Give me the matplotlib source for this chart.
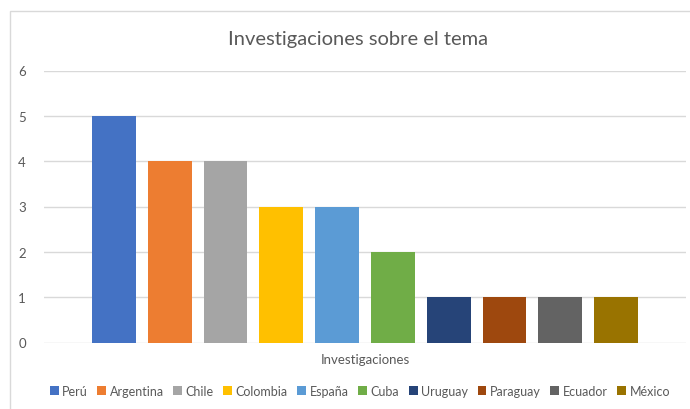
import matplotlib
matplotlib.use('Agg')
from matplotlib import pyplot as plt
from matplotlib.patches import Rectangle, Patch
import numpy as np

# Data
countries = ['Perú', 'Argentina', 'Chile', 'Colombia', 'España', 'Cuba',
             'Uruguay', 'Paraguay', 'Ecuador', 'México']
counts = [5, 4, 4, 3, 3, 2, 1, 1, 1, 1]
colors = ['#4472C4', '#ED7D31', '#A5A5A5', '#FFC000', '#5B9BD5', '#70AD47',
          '#264478', '#9E480E', '#636363', '#997300']
yticks = [0, 1, 2, 3, 4, 5, 6]

plt.rcParams['font.family'] = ['Lato', 'DejaVu Sans']
text_color = '#595959'

fig = plt.figure(figsize=(6.9, 4.1), dpi=100)
# Chart area border (cropped on right and bottom)
fig.patches.append(Rectangle((10 / 690, -0.1), 1.2, 1.1 - 12 / 410,
                             transform=fig.transFigure, fill=False,
                             edgecolor='#d9d9d9', linewidth=1))

ax = fig.add_axes([44 / 690, 66.5 / 410, 642 / 690, 272 / 410])
x = np.arange(len(countries))
ax.bar(x, counts, width=44 / 56, color=colors, zorder=3)

ax.set_xlim(-1.25, 10.25)
ax.set_ylim(0, 6)
ax.set_yticks(yticks)
ax.set_xticks([])
ax.yaxis.grid(True, color='#d9d9d9', linewidth=1, zorder=0)
for s in ax.spines.values():
    s.set_visible(False)
ax.tick_params(axis='y', length=0, pad=13, labelsize=9.5, labelcolor=text_color)
ax.set_xlabel('Investigaciones', fontsize=9.5, color=text_color, labelpad=7.5)

fig.text(358 / 690, 1 - 40 / 410, 'Investigaciones sobre el tema',
         ha='center', va='center', fontsize=14.5, color=text_color)

handles = [Patch(facecolor=c, edgecolor='none') for c in colors]
fig.legend(handles, countries, loc='center', bbox_to_anchor=(360 / 690, 1 - 392 / 410),
           ncol=10, frameon=False, fontsize=9, handlelength=0.7,
           handleheight=0.7, handletextpad=0.3, columnspacing=0.75,
           labelcolor=text_color)

plt.savefig('out.png', dpi=100)
